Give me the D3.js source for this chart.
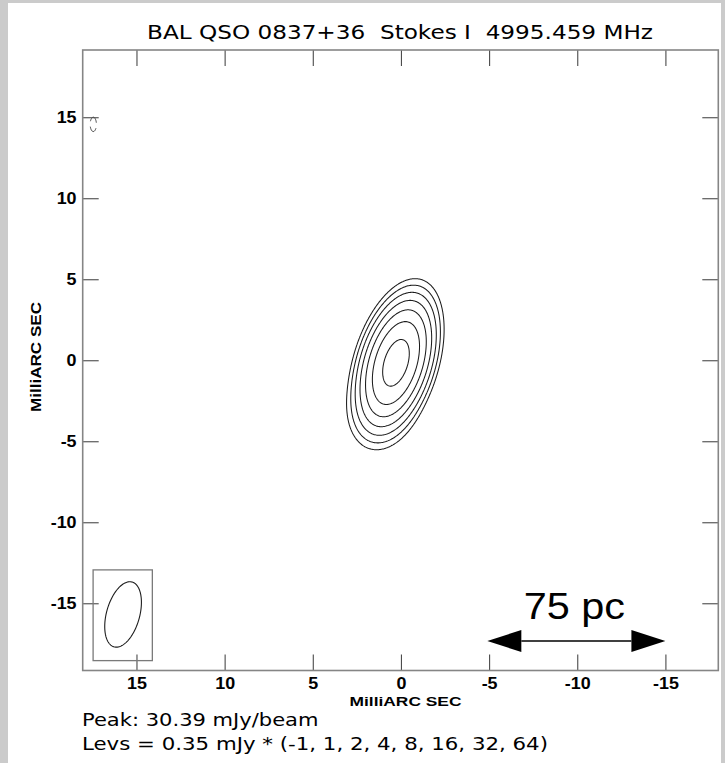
<!DOCTYPE html>
<html>
<head>
<meta charset="utf-8">
<script src="https://cdn.jsdelivr.net/npm/d3@7"></script>
<style>
  html, body { margin: 0; padding: 0; background: #fff; }
  svg { display: block; }
</style>
</head>
<body>
<svg id="chart" width="725" height="763"></svg>
<script>
// ---- Map axes: relative RA / Dec offsets (milliarcseconds) ----
const xDomain = [18.05, -18.0];
const yDomain = [-19.15, 19.15];
const xTicks = [15, 10, 5, 0, -5, -10, -15];
const yTicks = [15, 10, 5, 0, -5, -10, -15];
const xTickLabels = ["15", "10", "5", "0", "-5", "-10", "-15"];
const yTickLabels = ["15", "10", "5", "0", "-5", "-10", "-15"];
const axisTitle = "MilliARC SEC";

// ---- Header / footer text ----
const sourceName = "BAL QSO 0837+36";
const stokes = "Stokes I";
const frequency = "4995.459 MHz";
const peakFlux = 30.39;          // mJy/beam
const baseLevel = 0.35;          // mJy
const levelMultipliers = [-1, 1, 2, 4, 8, 16, 32, 64];

// ---- Brightness model: elliptical components ----
// position (mas), peak (mJy/beam), widths along major/minor axis (mas),
// PA (deg E of N), profile exponent (2 = Gaussian)
const compX = [0.28, 1.2, 17.45];
const compY = [-0.15, -3.3, 14.56];
const compPeak = [30.2, 0.45, -0.52];
const compSigMaj = [1.88, 1.3, 0.5];
const compSigMin = [0.86, 1.1, 0.2];
const compPA = [-15, -10, 0];
const compExp = [2.1, 2, 2];

// ---- Restoring beam (FWHM, mas) and its box ----
const beamCenter = [15.76, -15.69];
const beamMajor = 4.13;
const beamMinor = 1.89;
const beamPA = -13.7;
const beamBoxX = [17.46, 14.1];
const beamBoxY = [-12.94, -18.54];

// ---- Linear scale bar ----
const scaleBarX = [-4.9, -15.0];
const scaleBarY = -17.33;
const scaleBarLabel = "75 pc";

// ---------------------------------------------------------------
const W = 725, H = 763;
const plot = { left: 82.7, right: 718.3, top: 50, bottom: 670.5 };
const SX = 1.12;   // horizontal stretch of lettering
const TICK = 16;
const sans = "'DejaVu Sans', Verdana, sans-serif";
const helv = "'Liberation Sans', Arial, sans-serif";

const svg = d3.select("#chart");

// page background with grey margin
svg.append("rect").attr("width", W).attr("height", H).attr("fill", "#cbcbcb");
svg.append("rect").attr("x", 8).attr("y", 3).attr("width", W - 12).attr("height", H - 3).attr("fill", "#fff");

const x = d3.scaleLinear().domain(xDomain).range([plot.left, plot.right]);
const y = d3.scaleLinear().domain(yDomain).range([plot.bottom, plot.top]);

// ---- sample the model on a grid and contour it ----
const step = 0.05;
const nx = Math.ceil((xDomain[0] - xDomain[1]) / step) + 1;
const ny = Math.ceil((yDomain[1] - yDomain[0]) / step) + 1;
const gx = i => xDomain[0] - i * step;   // grid column -> RA offset
const gy = j => yDomain[1] - j * step;   // grid row -> Dec offset
const field = new Float64Array(nx * ny);
for (let k = 0; k < compX.length; k++) {
  const phi = compPA[k] * Math.PI / 180, s = Math.sin(phi), c = Math.cos(phi);
  const reach = 7 * compSigMaj[k], half = compExp[k] / 2;
  for (let j = 0; j < ny; j++) {
    const dy = gy(j) - compY[k];
    if (Math.abs(dy) > reach) continue;
    for (let i = 0; i < nx; i++) {
      const dx = gx(i) - compX[k];
      if (Math.abs(dx) > reach) continue;
      const u = dx * s + dy * c, v = dx * c - dy * s;
      const q2 = u * u / (compSigMaj[k] ** 2) + v * v / (compSigMin[k] ** 2);
      field[j * nx + i] += compPeak[k] * Math.exp(-0.5 * Math.pow(q2, half));
    }
  }
}
const negField = field.map(v => -v);

const gridToPage = d3.geoTransform({
  point(cx, cy) { this.stream.point(x(gx(cx - 0.5)), y(gy(cy - 0.5))); }
});
const contourPath = d3.geoPath(gridToPage);

const posLevels = levelMultipliers.filter(m => m > 0).map(m => m * baseLevel);
const negLevels = levelMultipliers.filter(m => m < 0).map(m => -m * baseLevel);

const gContours = svg.append("g").attr("fill", "none");
gContours.selectAll("path.pos")
  .data(d3.contours().size([nx, ny]).thresholds(posLevels)(field))
  .join("path").attr("class", "pos")
  .attr("d", contourPath)
  .attr("stroke", "#1c1c1c").attr("stroke-width", 1.05);
gContours.selectAll("path.neg")
  .data(d3.contours().size([nx, ny]).thresholds(negLevels)(negField))
  .join("path").attr("class", "neg")
  .attr("d", contourPath)
  .attr("stroke", "#333").attr("stroke-width", 0.9)
  .attr("stroke-dasharray", "12,5.5")
  .attr("stroke-dashoffset", 8.75);

// ---- axes (ticks pointing inward) ----
function styleTicks(g) {
  g.select(".domain").remove();
  g.selectAll(".tick line").attr("stroke", "#4a4a4a").attr("stroke-width", 1.1);
  g.selectAll(".tick text")
    .attr("fill", "#000")
    .style("font-family", helv)
    .style("font-weight", "bold")
    .style("font-size", "16px")
    .attr("transform", `scale(${SX},1)`);
}
svg.append("g").attr("transform", `translate(0,${plot.bottom})`)
  .call(d3.axisBottom(x).tickValues(xTicks).tickSize(-TICK).tickPadding(7)
    .tickFormat((d, i) => xTickLabels[i]))
  .call(styleTicks);
svg.append("g").attr("transform", `translate(${plot.left},0)`)
  .call(d3.axisLeft(y).tickValues(yTicks).tickSize(-TICK).tickPadding(5.5)
    .tickFormat((d, i) => yTickLabels[i]))
  .call(styleTicks);
svg.append("g").attr("transform", `translate(0,${plot.top})`)
  .call(d3.axisTop(x).tickValues(xTicks).tickSize(-TICK).tickFormat(""))
  .call(styleTicks);
svg.append("g").attr("transform", `translate(${plot.right},0)`)
  .call(d3.axisRight(y).tickValues(yTicks).tickSize(-TICK).tickFormat(""))
  .call(styleTicks);

// frame
svg.append("rect")
  .attr("x", plot.left).attr("y", plot.top)
  .attr("width", plot.right - plot.left).attr("height", plot.bottom - plot.top)
  .attr("fill", "none").attr("stroke", "#858585").attr("stroke-width", 1.6);

// ---- beam ----
svg.append("rect")
  .attr("x", x(beamBoxX[0])).attr("y", y(beamBoxY[0]))
  .attr("width", x(beamBoxX[1]) - x(beamBoxX[0]))
  .attr("height", y(beamBoxY[1]) - y(beamBoxY[0]))
  .attr("fill", "none").attr("stroke", "#7a7a7a").attr("stroke-width", 1.3);
const bPhi = beamPA * Math.PI / 180;
const beamPts = d3.range(0, 2 * Math.PI, Math.PI / 90).map(t => {
  const u = beamMajor / 2 * Math.cos(t), v = beamMinor / 2 * Math.sin(t);
  return [beamCenter[0] + u * Math.sin(bPhi) + v * Math.cos(bPhi),
          beamCenter[1] + u * Math.cos(bPhi) - v * Math.sin(bPhi)];
});
svg.append("path")
  .attr("d", d3.line().x(p => x(p[0])).y(p => y(p[1])).curve(d3.curveLinearClosed)(beamPts))
  .attr("fill", "none").attr("stroke", "#1c1c1c").attr("stroke-width", 1.1);

// ---- scale bar ----
const headLen = 34, headHalf = 11;
const xa = x(scaleBarX[0]), xb = x(scaleBarX[1]), ya = y(scaleBarY);
svg.append("line")
  .attr("x1", xa + headLen).attr("x2", xb - headLen).attr("y1", ya).attr("y2", ya)
  .attr("stroke", "#000").attr("stroke-width", 1.5);
svg.append("path")
  .attr("d", `M${xa},${ya}L${xa + headLen},${ya - headHalf}L${xa + headLen},${ya + headHalf}Z`
           + `M${xb},${ya}L${xb - headLen},${ya - headHalf}L${xb - headLen},${ya + headHalf}Z`)
  .attr("fill", "#000");
svg.append("text")
  .attr("transform", `translate(${(xa + xb) / 2 - 2},${ya - 22.5}) scale(${SX},1)`)
  .attr("text-anchor", "middle")
  .style("font-family", helv)
  .style("font-size", "37px")
  .text(scaleBarLabel);

// ---- titles ----
function fitText(sel, len) {
  return sel.attr("textLength", len).attr("lengthAdjust", "spacingAndGlyphs");
}
fitText(svg.append("text")
  .attr("x", 147).attr("y", 39)
  .style("font-family", sans).style("font-size", "19.6px")
  .style("white-space", "pre")
  .text(`${sourceName}  ${stokes}  ${frequency}`), 506);

fitText(svg.append("text")
  .attr("x", 405.5).attr("y", 706)
  .attr("text-anchor", "middle")
  .style("font-family", helv)
  .style("font-weight", "bold").style("font-size", "13.5px")
  .text(axisTitle), 112);
fitText(svg.append("text")
  .attr("transform", `translate(41,357) scale(${SX},1) rotate(-90)`)
  .attr("text-anchor", "middle")
  .style("font-family", helv)
  .style("font-weight", "bold").style("font-size", "13.5px")
  .text(axisTitle), 110);

fitText(svg.append("text")
  .attr("x", 82).attr("y", 726)
  .style("font-family", sans).style("font-size", "18.3px")
  .text(`Peak: ${peakFlux.toFixed(2)} mJy/beam`), 236.5);
fitText(svg.append("text")
  .attr("x", 82).attr("y", 750)
  .style("font-family", sans).style("font-size", "18.3px")
  .text(`Levs = ${baseLevel} mJy * (${levelMultipliers.join(", ")})`), 466);
</script>
</body>
</html>
